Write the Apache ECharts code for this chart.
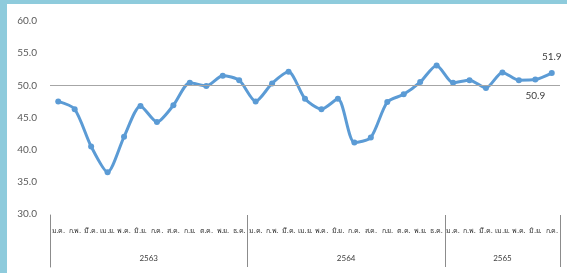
<!DOCTYPE html>
<html>
<head>
<meta charset="utf-8">
<script src="https://cdn.jsdelivr.net/npm/echarts@6/dist/echarts.min.js"></script>
<style>
    html, body { margin: 0; padding: 0; background: #ffffff; }
    #frame {
        width: 560px; height: 269px;
        border-left: 7px solid #8ecbdc;
        border-top: 4px solid #8ecbdc;
    }
    #chart { width: 560px; height: 269px; }
</style>
</head>
<body>
<div id="frame"><div id="chart"></div></div>
<script>
// months shown under each point
var months = ['ม.ค.', 'ก.พ.', 'มี.ค.', 'เม.ย.', 'พ.ค.', 'มิ.ย.', 'ก.ค.', 'ส.ค.', 'ก.ย.', 'ต.ค.', 'พ.ย.', 'ธ.ค.',
              'ม.ค.', 'ก.พ.', 'มี.ค.', 'เม.ย.', 'พ.ค.', 'มิ.ย.', 'ก.ค.', 'ส.ค.', 'ก.ย.', 'ต.ค.', 'พ.ย.', 'ธ.ค.',
              'ม.ค.', 'ก.พ.', 'มี.ค.', 'เม.ย.', 'พ.ค.', 'มิ.ย.', 'ก.ค.'];
var years = ['2563', '2564', '2565'];
var yearLengths = [12, 12, 7];
var values = [47.5, 46.3, 40.5, 36.5, 42.0, 46.8, 44.3, 46.9, 50.4, 49.9, 51.5, 50.8,
              47.5, 50.3, 52.1, 47.9, 46.3, 47.9, 41.1, 41.9, 47.4, 48.6, 50.5, 53.1,
              50.4, 50.8, 49.6, 52.0, 50.8, 50.9, 51.9];
var refValue = 50;

// year group boundaries and centres
var bounds = [0];
var centres = [];
yearLengths.forEach(function (n) {
    var start = bounds[bounds.length - 1];
    centres.push(start + n / 2);
    bounds.push(start + n);
});
var total = bounds[bounds.length - 1];

var seriesData = values.map(function (v, i) {
    if (i === values.length - 1) {
        return { value: v, label: { show: true, position: 'top', distance: 8 } };
    }
    if (i === values.length - 2) {
        return { value: v, label: { show: true, position: 'bottom', distance: 8 } };
    }
    return v;
});

var dividerStyle = { color: '#8c8c8c', width: 1, type: 'solid' };

var chart = echarts.init(document.getElementById('chart'));
chart.setOption({
    animation: false,
    textStyle: { fontFamily: 'Lato, "Noto Sans", sans-serif' },
    grid: [
        { left: 43, right: 7, top: 17, bottom: 59 },
        // strip under the plot for the year dividers
        { left: 43, right: 7, top: 211, bottom: 6 }
    ],
    xAxis: [{
        type: 'category',
        gridIndex: 0,
        data: months,
        boundaryGap: true,
        axisLine: { show: false },
        axisTick: { show: false },
        axisLabel: { interval: 0, margin: 13, fontSize: 7, color: '#333333' }
    }, {
        type: 'value',
        gridIndex: 1,
        min: 0,
        max: total,
        position: 'bottom',
        axisLine: { show: false },
        splitLine: { show: false },
        axisTick: { show: false },
        axisLabel: {
            inside: true,
            customValues: centres,
            margin: 5,
            fontSize: 8,
            color: '#404040',
            formatter: function (v) {
                return years[centres.indexOf(v)];
            }
        }
    }],
    yAxis: [{
        type: 'value',
        gridIndex: 0,
        min: 30,
        max: 60,
        interval: 5,
        axisLine: { show: false },
        axisTick: { show: false },
        splitLine: { show: false },
        axisLabel: {
            margin: 13,
            fontSize: 10,
            color: '#595959',
            formatter: function (v) { return v.toFixed(1); }
        }
    }, {
        // its line closes the last year box on the right
        type: 'value',
        gridIndex: 1,
        min: 0,
        max: 1,
        position: 'right',
        axisLine: { show: true, lineStyle: dividerStyle },
        axisTick: { show: false },
        axisLabel: { show: false },
        splitLine: { show: false }
    }],
    series: [{
        type: 'line',
        xAxisIndex: 0,
        yAxisIndex: 0,
        data: seriesData,
        smooth: 0.25,
        symbol: 'circle',
        symbolSize: 6,
        itemStyle: { color: '#5b9bd5' },
        lineStyle: { color: '#5b9bd5', width: 3 },
        label: {
            fontSize: 10,
            color: '#404040',
            formatter: function (p) { return p.value.toFixed(1); }
        },
        markLine: {
            silent: true,
            symbol: 'none',
            label: { show: false },
            lineStyle: { color: '#a6a6a6', width: 1, type: 'solid' },
            data: [{ yAxis: refValue }]
        }
    }, {
        type: 'line',
        xAxisIndex: 1,
        yAxisIndex: 1,
        data: [],
        markLine: {
            silent: true,
            symbol: 'none',
            label: { show: false },
            lineStyle: dividerStyle,
            data: bounds.map(function (b) { return { xAxis: b }; })
        }
    }]
});
</script>
</body>
</html>
